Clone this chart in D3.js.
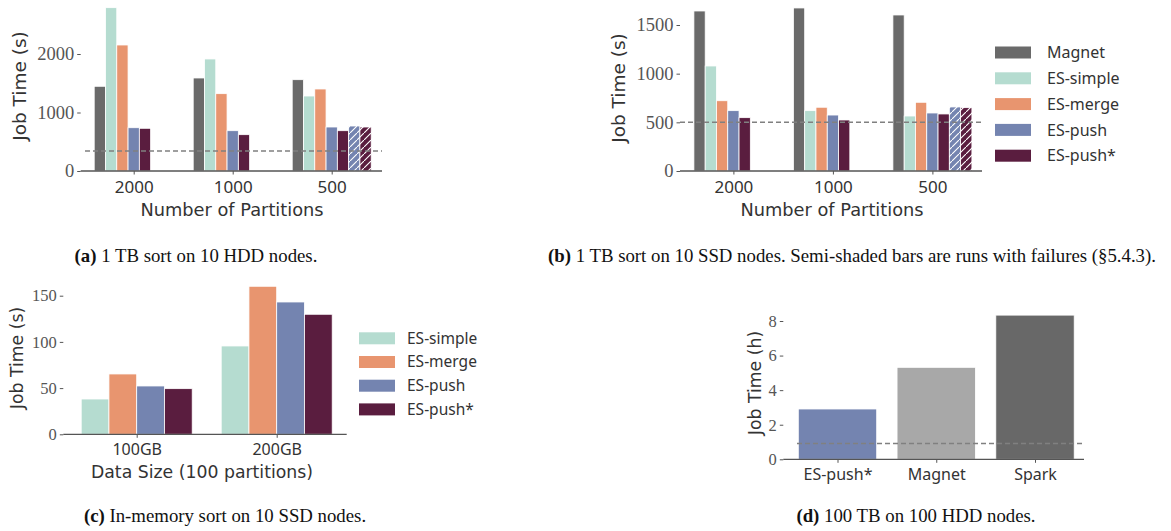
<!DOCTYPE html>
<html lang="en">
<head>
<meta charset="UTF-8">
<title>Job time panels</title>
<script src="https://d3js.org/d3.v7.min.js"></script>
<style>
    body { margin: 0; background: #fff; }
    svg { display: block; }
    .ytick text { font-family: "Liberation Serif", serif; fill: #555; }
    .xtick text { font-family: "Noto Sans", sans-serif; fill: #333; }
    .tick line { stroke: #555; }
    .title { font-family: "DejaVu Sans", sans-serif; fill: #333; }
    .leg { font-family: "Noto Sans", sans-serif; fill: #333; }
    .caption { font-family: "Liberation Serif", serif; font-size: 18.8px; fill: #111; }
</style>
</head>
<body>
<script>
// shared
const seriesNames = ["Magnet", "ES-simple", "ES-merge", "ES-push", "ES-push*"];
const seriesColors = ["#6a6a6a", "#b5dcd0", "#e8956f", "#7484b0", "#5a1d3f"];

// (a) 1 TB sort, 10 HDD nodes (seconds)
const partitions = ["2000", "1000", "500"];
const hddMagnet = [1448, 1590, 1561];
const hddSimple = [2792, 1915, 1282];
const hddMerge = [2154, 1322, 1402];
const hddPush = [740, 689, 752];
const hddPushStar = [730, 621, 689];
const hddPushFail = [null, null, 769];
const hddPushStarFail = [null, null, 752];
const hddBaseline = 342;
const hddTicks = [0, 1000, 2000];

// (b) 1 TB sort, 10 SSD nodes (seconds)
const ssdMagnet = [1644, 1675, 1603];
const ssdSimple = [1079, 620, 565];
const ssdMerge = [722, 655, 706];
const ssdPush = [620, 575, 596];
const ssdPushStar = [548, 524, 586];
const ssdPushFail = [null, null, 658];
const ssdPushStarFail = [null, null, 651];
const ssdBaseline = 500;
const ssdTicks = [0, 500, 1000, 1500];

// (c) in-memory sort (seconds)
const dataSizes = ["100GB", "200GB"];
const memSimple = [38.2, 95.6];
const memMerge = [65.3, 160.2];
const memPush = [52.3, 143.2];
const memPushStar = [49.4, 129.9];
const memTicks = [0, 50, 100, 150];

// (d) 100 TB on 100 HDD nodes (hours)
const systems = ["ES-push*", "Magnet", "Spark"];
const bigHours = [2.91, 5.32, 8.34];
const bigColors = ["#7484b0", "#a8a8a8", "#686868"];
const bigBaseline = 0.92;
const bigTicks = [0, 2, 4, 6, 8];

const W = 1171, H = 531;
const svg = d3.select("body").append("svg").attr("width", W).attr("height", H);
const defs = svg.append("defs");

function hatchFor(color, id) {
    const p = defs.append("pattern").attr("id", id)
        .attr("patternUnits", "userSpaceOnUse").attr("width", 7).attr("height", 7);
    p.append("rect").attr("width", 7).attr("height", 7).attr("fill", color);
    p.append("path").attr("d", "M-1,8 L8,-1 M-2,1 L1,-2 M6,9 L9,6")
        .attr("stroke", "#fff").attr("stroke-width", 1.1);
    return "url(#" + id + ")";
}
const hatchPush = hatchFor(seriesColors[3], "hpush");
const hatchPushStar = hatchFor(seriesColors[4], "hpushstar");

// grouped bar panel
function panel(cfg) {
    const g = svg.append("g");
    const y = d3.scaleLinear().domain(cfg.yDomain).range(cfg.yRange);
    const x = d3.scalePoint().domain(cfg.groups).range(cfg.centers);
    const slots = d3.scaleBand().domain(d3.range(cfg.series.length))
        .range([-cfg.groupHalf, cfg.groupHalf]);

    cfg.series.forEach((s, i) => {
        g.append("g").attr("class", "bars").selectAll("rect")
            .data(cfg.groups.map((grp, j) => ({grp, v: s.values[j]})).filter(d => d.v != null))
            .join("rect")
            .attr("x", d => x(d.grp) + slots(i))
            .attr("width", slots.bandwidth())
            .attr("y", d => y(d.v))
            .attr("height", d => y(0) - y(d.v))
            .attr("fill", s.fill)
            .attr("stroke", "#fff").attr("stroke-width", 0.8);
    });

    if (cfg.baseline != null) {
        g.append("line")
            .attr("x1", cfg.dashX[0]).attr("x2", cfg.dashX[1])
            .attr("y1", y(cfg.baseline)).attr("y2", y(cfg.baseline))
            .attr("stroke", "#808080").attr("stroke-width", 1.5)
            .attr("stroke-dasharray", "5,3");
    }

    // x axis
    const xa = g.append("g").attr("class", "xtick")
        .attr("transform", `translate(0,${y(0)})`)
        .call(d3.axisBottom(x).tickSize(3.5).tickPadding(cfg.xPad));
    xa.select(".domain").remove();
    xa.selectAll("text").style("font-size", cfg.xFont + "px");
    g.append("line").attr("x1", cfg.axisX[0]).attr("x2", cfg.axisX[1])
        .attr("y1", y(0)).attr("y2", y(0)).attr("stroke", "#555").attr("stroke-width", 1.3);

    // y axis
    const ya = g.append("g").attr("class", "ytick")
        .attr("transform", `translate(${cfg.axisX[0]},0)`)
        .call(d3.axisLeft(y).tickValues(cfg.yTicks).tickFormat(d3.format("d"))
            .tickSize(3.5).tickPadding(3));
    ya.select(".domain").remove();
    ya.selectAll("text").style("font-size", cfg.yFont + "px");

    g.append("text").attr("class", "title")
        .attr("transform", `translate(${cfg.yTitlePos[0]},${cfg.yTitlePos[1]}) rotate(-90)`)
        .attr("text-anchor", "middle").attr("dy", "0.35em")
        .style("font-size", cfg.yTitleFont + "px").text(cfg.yTitle);
    if (cfg.xTitle) {
        g.append("text").attr("class", "title")
            .attr("x", cfg.xTitlePos[0]).attr("y", cfg.xTitlePos[1])
            .attr("text-anchor", "middle")
            .style("font-size", cfg.xTitleFont + "px").text(cfg.xTitle);
    }
    return g;
}

function legend(x0, y0, step, gap, names, colors, fontSize) {
    const g = svg.append("g");
    names.forEach((n, i) => {
        g.append("rect").attr("x", x0).attr("y", y0 + i * step - 6)
            .attr("width", 36).attr("height", 12).attr("fill", colors[i]);
        g.append("text").attr("class", "leg").attr("x", x0 + gap).attr("y", y0 + i * step)
            .attr("dy", "0.35em").style("font-size", fontSize + "px").text(n);
    });
}

const sevenSeries = (m, s, me, p, ps, pf, psf) => [
    {values: m, fill: seriesColors[0]},
    {values: s, fill: seriesColors[1]},
    {values: me, fill: seriesColors[2]},
    {values: p, fill: seriesColors[3]},
    {values: ps, fill: seriesColors[4]},
    {values: pf, fill: hatchPush},
    {values: psf, fill: hatchPushStar}
];

// (a)
panel({
    groups: partitions, centers: [133.7, 331.7], groupHalf: 39.5,
    series: sevenSeries(hddMagnet, hddSimple, hddMerge, hddPush, hddPushStar, hddPushFail, hddPushStarFail),
    yDomain: [0, 2800], yRange: [171, 7.2], yTicks: hddTicks,
    axisX: [80.7, 382], dashX: [85, 382], baseline: hddBaseline,
    xPad: 6.5, xFont: 17, yFont: 18.5, yTitleFont: 18.5, xTitleFont: 17.8,
    yTitle: "Job Time (s)", yTitlePos: [20, 86],
    xTitle: "Number of Partitions", xTitlePos: [232, 215.5]
});

// (b)
panel({
    groups: partitions, centers: [733.4, 932.4], groupHalf: 39.5,
    series: sevenSeries(ssdMagnet, ssdSimple, ssdMerge, ssdPush, ssdPushStar, ssdPushFail, ssdPushStarFail),
    yDomain: [0, 1500], yRange: [171, 25], yTicks: ssdTicks,
    axisX: [680, 982], dashX: [680, 982], baseline: ssdBaseline,
    xPad: 6.5, xFont: 17, yFont: 18.5, yTitleFont: 18.5, xTitleFont: 17.8,
    yTitle: "Job Time (s)", yTitlePos: [619, 88],
    xTitle: "Number of Partitions", xTitlePos: [832, 215.5]
});
legend(995, 52.5, 25.8, 52, seriesNames, seriesColors, 16);

// (c)
panel({
    groups: dataSizes, centers: [136.7, 276.7], groupHalf: 55.5,
    series: [
        {values: memSimple, fill: seriesColors[1]},
        {values: memMerge, fill: seriesColors[2]},
        {values: memPush, fill: seriesColors[3]},
        {values: memPushStar, fill: seriesColors[4]}
    ],
    yDomain: [0, 150], yRange: [434.3, 295.7], yTicks: memTicks,
    axisX: [63.3, 346.7], baseline: null,
    xPad: 5.5, xFont: 16, yFont: 16.5, yTitleFont: 17.3, xTitleFont: 17.3,
    yTitle: "Job Time (s)", yTitlePos: [17, 358],
    xTitle: "Data Size (100 partitions)", xTitlePos: [202, 478]
});
legend(359, 338.3, 23.7, 48, seriesNames.slice(1), seriesColors.slice(1), 15.5);

// (d)
panel({
    groups: systems, centers: [837.5, 1035], groupHalf: 39.2,
    series: [{values: bigHours, fill: null}],
    yDomain: [0, 8], yRange: [459.3, 321], yTicks: bigTicks,
    axisX: [783.3, 1084], dashX: [797, 1084], baseline: bigBaseline,
    xPad: 5.5, xFont: 16, yFont: 16.5, yTitleFont: 17.3,
    yTitle: "Job Time (h)", yTitlePos: [755, 383]
}).select("g.bars").selectAll("rect").attr("fill", (d, i) => bigColors[i]);

// captions
function caption(x, y, tag, rest) {
    const t = svg.append("text").attr("class", "caption")
        .attr("x", x).attr("y", y).attr("text-anchor", "middle");
    t.append("tspan").style("font-weight", "bold").text(tag);
    t.append("tspan").text(" " + rest);
}
caption(196, 262, "(a)", "1 TB sort on 10 HDD nodes.");
caption(852, 262, "(b)", "1 TB sort on 10 SSD nodes. Semi-shaded bars are runs with failures (§5.4.3).");
caption(225, 522, "(c)", "In-memory sort on 10 SSD nodes.");
caption(916, 522, "(d)", "100 TB on 100 HDD nodes.");
</script>
</body>
</html>
